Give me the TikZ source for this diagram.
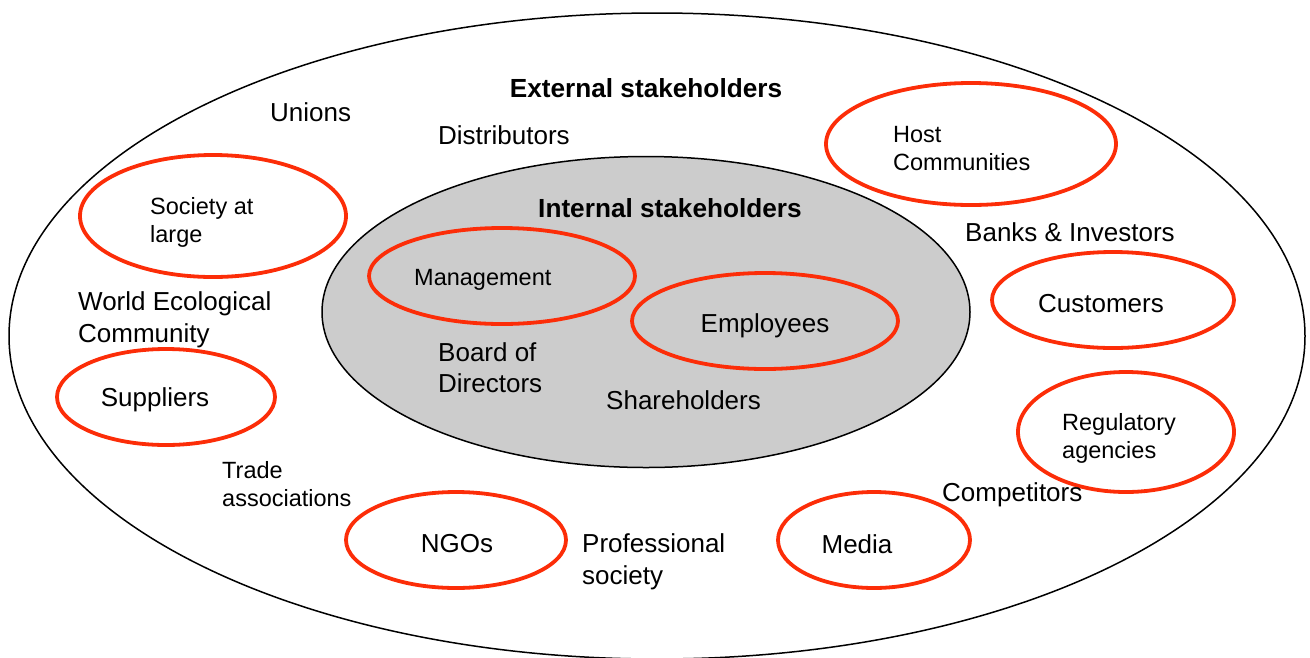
\documentclass[tikz,border=0pt]{standalone}
\usepackage{fontspec}
\setmainfont{Liberation Sans}
\usetikzlibrary{shapes.geometric}
\definecolor{ringred}{RGB}{252,45,8}

\begin{document}
\begin{tikzpicture}[x=1pt,y=-1pt,
  ring/.style={ellipse, draw=ringred, line width=3.8pt, inner sep=0pt},
  lbl/.style={inner sep=0pt, font=\fontsize{26}{31.5}\selectfont, align=left},
  smlbl/.style={inner sep=0pt, font=\fontsize{23.5}{28}\selectfont, align=left},
  hdr/.style={inner sep=0pt, font=\fontsize{26.2}{31}\selectfont\bfseries}]
  \useasboundingbox (0,0) rectangle (1310,657);
  \clip (0,0) rectangle (1310,657);
  \node[ellipse, draw, line width=1.5pt, inner sep=0pt,
    minimum width=1296pt, minimum height=646pt] (outer) at (657,336) {};
  \node[ellipse, draw, fill=black!20, line width=1.5pt, inner sep=0pt,
    minimum width=648pt, minimum height=311pt] (inner) at (646,312) {};
  % red rings
  \foreach \n/\cx/\cy/\rx/\ry in {society/213/216/133/61, mgmt/502/276/133/48,
    employees/765/321/133/48, host/971/144/145/61, customers/1113/300/121/48,
    regulatory/1126/432/108/60, suppliers/166/397/109/48, ngos/456/540/110/48,
    media/874/540/96/48}
    \node[ring, minimum width=\rx*2pt, minimum height=\ry*2pt] (\n) at (\cx,\cy) {};
  % headings
  \node[hdr] (exthdr) at (646,88) {External stakeholders};
  \node[hdr] (inthdr) at (670,208) {Internal stakeholders};
  % labels
  \node[lbl, anchor=west] (unions) at (270,112) {Unions};
  \node[lbl, anchor=west] (distrib) at (438,135) {Distributors};
  \node[lbl, anchor=west] (banks) at (965,232) {Banks \& Investors};
  \node[lbl, anchor=west] (world) at (78,320) {World Ecological\\Community};
  \node[lbl, anchor=west] (board) at (438,367.5) {Board of\\Directors};
  \node[lbl, anchor=west] (shares) at (606,400) {Shareholders};
  \node[smlbl, anchor=west] (trade) at (222,484.5) {Trade\\associations};
  \node[lbl, anchor=west] (prof) at (582,562) {Professional\\society};
  \node[lbl, anchor=west] (compet) at (942,495) {Competitors};
  \node[smlbl, anchor=west] (societytxt) at (150,222) {Society at\\large};
  \node[smlbl, anchor=west] (mgmttxt) at (414,280) {Management};
  \node[lbl] (emptxt) at (765,326) {Employees};
  \node[smlbl, anchor=west] (hosttxt) at (893,149) {Host\\Communities};
  \node[lbl] (custtxt) at (1101,304) {Customers};
  \node[smlbl, anchor=west] (regtxt) at (1062,438) {Regulatory\\agencies};
  \node[lbl] (supptxt) at (155,400) {Suppliers};
  \node[lbl] (ngotxt) at (457,544) {NGOs};
  \node[lbl] (mediatxt) at (857,544) {Media};
\end{tikzpicture}
\end{document}
